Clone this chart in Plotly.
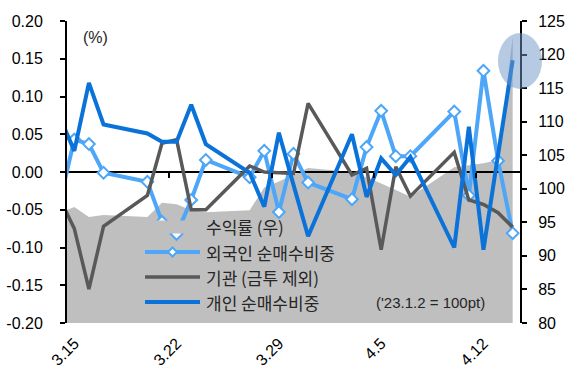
import plotly.graph_objects as go

# Trading days (2023); the first row only feeds the line segment entering the left edge
dates = ["2023-03-14", "2023-03-15", "2023-03-16", "2023-03-17", "2023-03-20",
         "2023-03-21", "2023-03-22", "2023-03-23", "2023-03-24", "2023-03-27",
         "2023-03-28", "2023-03-29", "2023-03-30", "2023-03-31", "2023-04-03",
         "2023-04-04", "2023-04-05", "2023-04-06", "2023-04-07", "2023-04-10",
         "2023-04-11", "2023-04-12", "2023-04-13", "2023-04-14"]

# 수익률 (우) - index, '23.1.2 = 100pt
return_idx = [96.4, 97.3, 95.8, 96.1, 95.8, 97.9, 97.7, 96.8, 96.5, 96.8,
              100.2, 101.1, 102.1, 103.1, 102.5, 101.7, 100.8, 99.8, 98.8, 103.2,
              103.5, 103.8, 104.3, 122.6]

# 외국인 순매수비중 (%)
foreign = [-0.040, 0.043, 0.037, -0.001, -0.013, -0.066, -0.082, -0.037, 0.016, -0.007,
           0.028, -0.053, 0.024, -0.014, -0.036, 0.033, 0.081, 0.021, 0.021, 0.080,
           -0.031, 0.134, 0.015, -0.081]

# 기관 (금투 제외) (%)
institution = [-0.035, -0.075, -0.155, -0.072, -0.031, 0.038, 0.043, -0.050, -0.050, 0.008,
               0.000, -0.001, -0.002, 0.091, -0.004, 0.005, -0.103, 0.007, -0.032, 0.026,
               -0.037, -0.043, -0.054, -0.073]

# 개인 순매수비중 (%)
individual = [0.073, 0.028, 0.118, 0.063, 0.051, 0.040, 0.040, 0.089, 0.037, -0.001,
              -0.046, 0.052, -0.017, -0.085, 0.050, -0.033, 0.018, -0.004, 0.020, -0.100,
              0.060, -0.103, 0.023, 0.148]

tick_dates = ["2023-03-15", "2023-03-22", "2023-03-29", "2023-04-05", "2023-04-12"]
tick_labels = ["3.15", "3.22", "3.29", "4.5", "4.12"]
week_marks = ["2023-03-21 12:00", "2023-03-28 12:00", "2023-04-04 12:00", "2023-04-11 12:00"]

left_ticks = [-0.20, -0.15, -0.10, -0.05, 0.00, 0.05, 0.10, 0.15, 0.20]
left_labels = ["-0.20", "-0.15", "-0.10", "-0.05", "0.00", "0.05", "0.10", "0.15", "0.20"]

legend_names = ["수익률 (우)", "외국인 순매수비중", "기관 (금투 제외)", "개인 순매수비중"]

C_AREA = "#BFBFBF"
C_FOREIGN = "#4DA6F7"
C_INST = "#595959"
C_INDIV = "#0A72D8"

W, H = 567, 372
ML, MR, MT, MB = 67, 47, 21, 49
PW, PH = W - ML - MR, H - MT - MB

TXT = "Liberation Sans, Arial, sans-serif"
KR = "Noto Sans CJK KR, sans-serif"


def fx(px):
    return (px - ML) / PW


def fy(py):
    return (H - MB - py) / PH


fig = go.Figure()

# index area on the right-hand axis (base subplot, drawn first)
fig.add_trace(go.Scatter(x=dates, y=return_idx, name=legend_names[0], mode="none",
                         fill="tozeroy", fillcolor=C_AREA, xaxis="x", yaxis="y",
                         showlegend=False, hoverinfo="x+y"))

# net-buying shares on the left-hand axis (second subplot, drawn above the area)
fig.add_trace(go.Scatter(x=dates, y=foreign, name=legend_names[1], mode="lines+markers",
                         line=dict(color=C_FOREIGN, width=4),
                         marker=dict(symbol="diamond", size=9, color="white",
                                     line=dict(color=C_FOREIGN, width=2)),
                         xaxis="x2", yaxis="y2", showlegend=False))
fig.add_trace(go.Scatter(x=dates, y=institution, name=legend_names[2], mode="lines",
                         line=dict(color=C_INST, width=3.5),
                         xaxis="x2", yaxis="y2", showlegend=False))
fig.add_trace(go.Scatter(x=dates, y=individual, name=legend_names[3], mode="lines",
                         line=dict(color=C_INDIV, width=4),
                         xaxis="x2", yaxis="y2", showlegend=False))

x_range = ["2023-03-14 12:00", "2023-04-14 12:00"]

shapes = []
annotations = []

# legend keys
key_x0, key_x1 = fx(145), fx(200)
rows = [227, 252, 277, 302]
shapes.append(dict(type="rect", xref="paper", yref="paper", layer="above",
                   x0=key_x0, x1=key_x1, y0=fy(233.5), y1=fy(220.5),
                   fillcolor=C_AREA, line=dict(width=0)))
for ry, col, lw in zip(rows[1:], [C_FOREIGN, C_INST, C_INDIV], [4, 3.5, 4]):
    shapes.append(dict(type="line", xref="paper", yref="paper", layer="above",
                       x0=key_x0, x1=key_x1, y0=fy(ry), y1=fy(ry),
                       line=dict(color=col, width=lw)))
dcx, dcy, dr = 172.5, rows[1], 4.5
shapes.append(dict(type="path", xref="paper", yref="paper", layer="above",
                   path=(f"M {fx(dcx - dr)} {fy(dcy)} L {fx(dcx)} {fy(dcy - dr)} "
                         f"L {fx(dcx + dr)} {fy(dcy)} L {fx(dcx)} {fy(dcy + dr)} Z"),
                   fillcolor="white", line=dict(color=C_FOREIGN, width=2)))
for ry, name in zip(rows, legend_names):
    annotations.append(dict(xref="paper", yref="paper", x=fx(204), y=fy(ry),
                            xanchor="left", yanchor="middle", showarrow=False,
                            text=name, font=dict(family=KR, size=17, color="#262626")))

# highlight on the latest index level
shapes.append(dict(type="circle", xref="paper", yref="paper", layer="above",
                   x0=fx(498), x1=fx(542), y0=fy(89), y1=fy(33),
                   fillcolor="rgba(112,150,200,0.5)", line=dict(width=0)))

annotations.append(dict(xref="paper", yref="paper", x=fx(81), y=fy(38),
                        xanchor="left", yanchor="middle", showarrow=False,
                        text="(%)", font=dict(family=TXT, size=16, color="#262626")))
annotations.append(dict(xref="paper", yref="paper", x=fx(374), y=fy(302),
                        xanchor="left", yanchor="middle", showarrow=False,
                        text="('23.1.2 = 100pt)", font=dict(family=TXT, size=15, color="#262626")))

fig.update_layout(
    width=W, height=H,
    margin=dict(l=ML, r=MR, t=MT, b=MB, pad=0, autoexpand=False),
    paper_bgcolor="white", plot_bgcolor="rgba(0,0,0,0)",
    font=dict(family=TXT, size=16, color="black"),
    showlegend=False,
    shapes=shapes, annotations=annotations,
    xaxis=dict(domain=[0, 1], anchor="y", type="date", range=x_range,
               tickvals=tick_dates, ticktext=tick_labels, tickangle=-45,
               showline=False, ticks="", showgrid=False, zeroline=False,
               automargin=False, ticklabelstandoff=7,
               tickfont=dict(size=16, color="black")),
    yaxis=dict(domain=[0, 1], anchor="x", side="right", range=[80, 125],
               tick0=80, dtick=5, ticks="outside", ticklen=5, tickwidth=2,
               tickcolor="black", showline=True, linewidth=2, linecolor="black",
               showgrid=False, zeroline=False, ticklabelstandoff=8, automargin=False,
               tickfont=dict(size=16, color="black")),
    xaxis2=dict(domain=[0, 1], anchor="free", position=0.5, matches="x", type="date",
                tickvals=week_marks, ticks="outside", ticklen=5, tickwidth=1.5,
                tickcolor="black", showticklabels=False, showline=False,
                showgrid=False, zeroline=False, automargin=False),
    yaxis2=dict(domain=[0, 1], anchor="x2", side="left", range=[-0.2, 0.2],
                tickvals=left_ticks, ticktext=left_labels, ticks="outside",
                ticklen=5, tickwidth=2, tickcolor="black", showline=True,
                linewidth=2, linecolor="black", showgrid=False,
                zeroline=True, zerolinecolor="black", zerolinewidth=2,
                ticklabelstandoff=14, automargin=False,
                tickfont=dict(size=16, color="black")),
)

fig.write_html("out.html")
